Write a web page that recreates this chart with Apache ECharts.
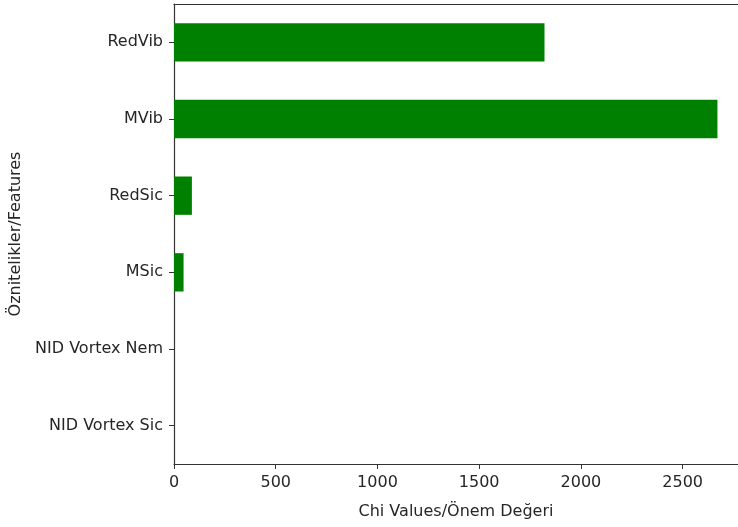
<!DOCTYPE html>
<html>
<head>
<meta charset="utf-8">
<script src="https://cdn.jsdelivr.net/npm/echarts@6/dist/echarts.min.js"></script>
<style>
  html, body { margin: 0; padding: 0; background: #fff; }
  #chart { width: 738px; height: 527px; }
</style>
</head>
<body>
<div id="chart"></div>
<script>
// feature importance (chi-square) — horizontal bars, bottom category first
var features = ['NID Vortex Sic', 'NID Vortex Nem', 'MSic', 'RedSic', 'MVib', 'RedVib'];
var chiValues = [0, 0, 47, 88, 2671, 1821];
var xTicks = [0, 500, 1000, 1500, 2000, 2500];

var chart = echarts.init(document.getElementById('chart'), null, { renderer: 'canvas' });
var font = 'DejaVu Sans';
var axisColor = '#333';
var textColor = '#262626';
var xMax = 2772; // the reference is cropped before matplotlib's right spine

chart.setOption({
  animation: false,
  grid: { left: 174, right: 0, top: 4, bottom: 63 },
  xAxis: [{
    type: 'value',
    min: 0,
    max: xMax,
    interval: 500,
    name: 'Chi Values/Önem Değeri',
    nameLocation: 'middle',
    nameGap: 40,
    nameTextStyle: { fontFamily: font, fontSize: 16, color: textColor },
    axisLine: { show: true, lineStyle: { color: axisColor, width: 1.2 } },
    axisTick: { show: true, length: 5, lineStyle: { color: axisColor } },
    axisLabel: {
      fontFamily: font, fontSize: 16, color: textColor, margin: 11,
      showMaxLabel: false,
      formatter: function (v) { return xTicks.indexOf(v) >= 0 ? String(v) : ''; }
    },
    splitLine: { show: false }
  }, {
    type: 'value',
    position: 'top',
    min: 0,
    max: xMax,
    axisLine: { show: true, lineStyle: { color: axisColor, width: 1.2 } },
    axisTick: { show: false },
    axisLabel: { show: false },
    splitLine: { show: false }
  }],
  yAxis: {
    type: 'category',
    data: features,
    name: 'Öznitelikler/Features',
    nameLocation: 'middle',
    nameGap: 142,
    nameRotate: 90,
    nameTextStyle: { fontFamily: font, fontSize: 16, color: textColor },
    axisLine: { show: true, lineStyle: { color: axisColor, width: 1.2 } },
    axisTick: { show: true, alignWithLabel: true, length: 5, lineStyle: { color: axisColor } },
    axisLabel: { fontFamily: font, fontSize: 16, color: textColor, margin: 11 },
    splitLine: { show: false }
  },
  series: [{
    type: 'bar',
    data: chiValues,
    barWidth: '50%',
    itemStyle: { color: '#008000' }
  }]
});
</script>
</body>
</html>
